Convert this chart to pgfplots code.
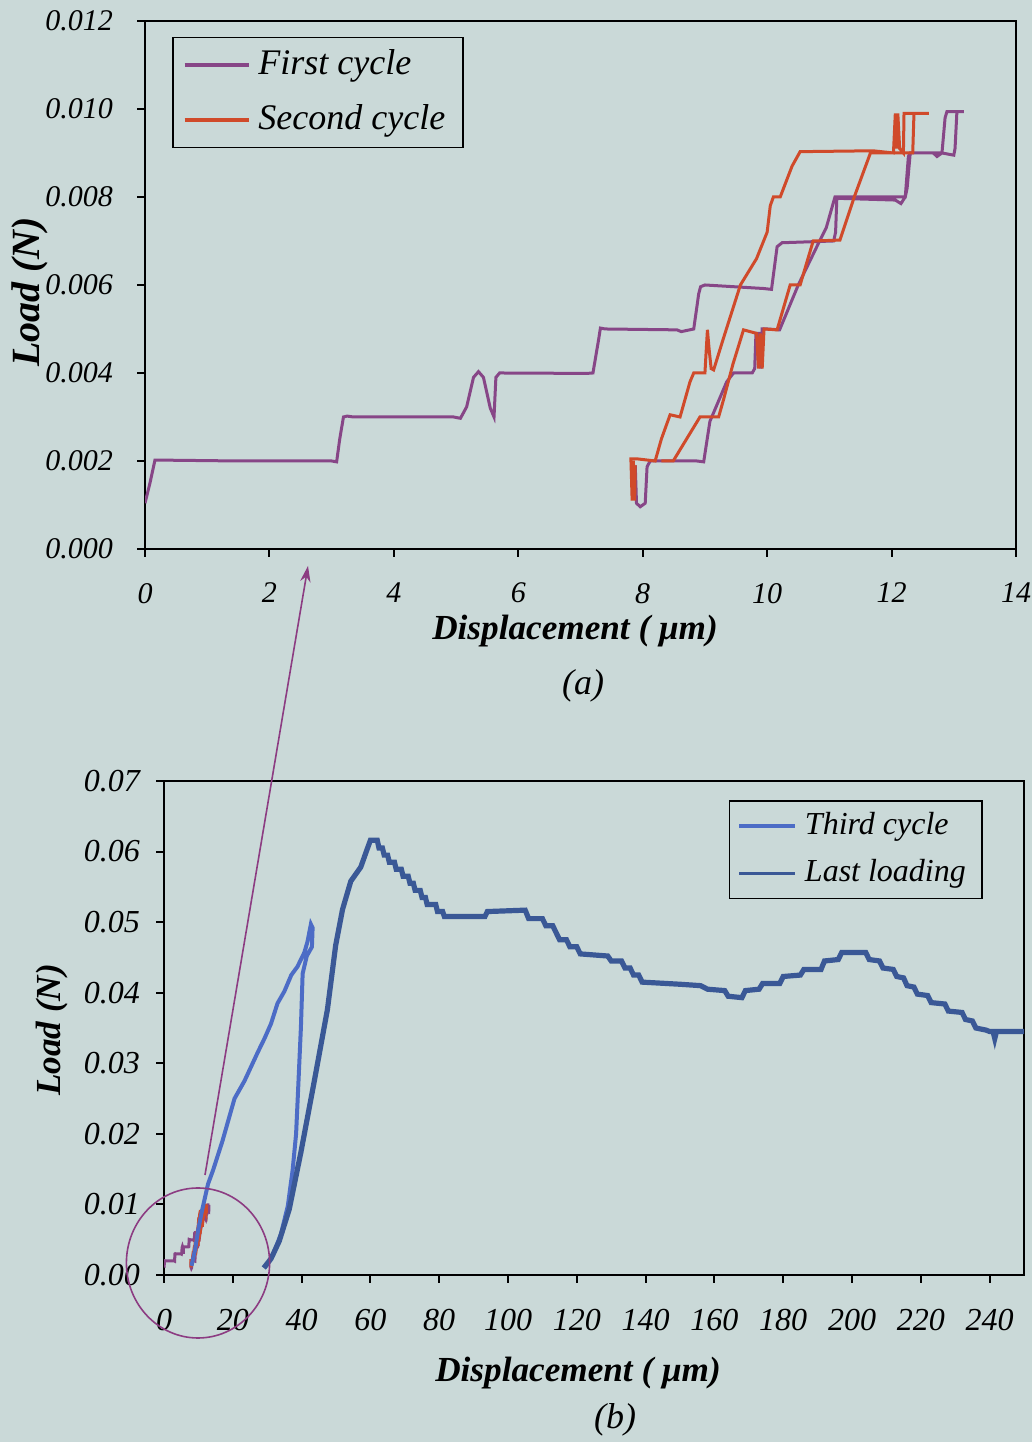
\documentclass[border=0pt]{standalone}
\usepackage{fontspec}
\setmainfont{Liberation Serif}
\usepackage{pgfplots}
\usepackage{pgfplotstable}
\pgfplotsset{compat=1.18}
\usetikzlibrary{arrows.meta}
\definecolor{bgc}{RGB}{202,217,216}
\definecolor{cPur}{RGB}{135,70,135}
\definecolor{cRed}{RGB}{208,74,42}
\definecolor{cThird}{RGB}{76,108,198}
\definecolor{cLast}{RGB}{58,88,150}
\definecolor{cAnn}{RGB}{140,60,130}

\pgfplotstableread{
x y
0 0.00104
0.08 0.0015
0.16 0.00202
0.24 0.00202
1.5 0.002
3.0 0.002
3.08 0.00198
3.13 0.0025
3.19 0.003
3.25 0.00302
3.35 0.003
4.96 0.003
5.07 0.00297
5.17 0.00323
5.28 0.0039
5.36 0.00403
5.44 0.0039
5.55 0.0032
5.61 0.003
5.64 0.0039
5.7 0.004
7.1 0.00399
7.2 0.004
7.29 0.00475
7.32 0.00502
7.4 0.005
8.55 0.00498
8.62 0.00494
8.82 0.005
8.9 0.0058
8.93 0.00596
9.0 0.006
9.94 0.00592
10.07 0.0059
10.16 0.00687
10.24 0.00696
11.07 0.007
11.1 0.0072
11.12 0.00797
12.06 0.00793
12.15 0.00785
12.22 0.008
12.27 0.00892
12.3 0.009
12.67 0.009
12.73 0.00892
12.81 0.009
12.86 0.0098
12.89 0.00994
13.16 0.00994
13.05 0.00994
13.02 0.0091
13.0 0.00895
12.81 0.009
12.3 0.009
12.25 0.0082
12.22 0.008
11.09 0.008
10.95 0.0073
10.85 0.00702
10.5 0.006
10.2 0.00498
10.0 0.005
9.92 0.005
9.9 0.0041
9.87 0.0049
9.82 0.0049
9.8 0.0041
9.76 0.004
9.46 0.004
9.35 0.0038
9.08 0.0029
8.98 0.00198
8.87 0.002
8.12 0.002
8.07 0.00187
8.04 0.00104
7.96 0.00096
7.9 0.00104
7.88 0.0019
}\firstcycle

\pgfplotstableread{
x y
7.88 0.0019
7.87 0.0011
7.85 0.002
7.83 0.0011
7.81 0.00205
7.9 0.00205
8.2 0.002
8.3 0.0025
8.44 0.00305
8.6 0.003
8.76 0.0038
8.82 0.004
9.0 0.004
9.02 0.0045
9.04 0.00498
9.07 0.0045
9.1 0.0041
9.14 0.00407
9.3 0.0048
9.57 0.006
9.83 0.0066
10.0 0.0072
10.05 0.0078
10.1 0.008
10.21 0.008
10.4 0.0087
10.53 0.00903
11.7 0.00905
12.03 0.009
12.06 0.0099
12.08 0.0091
12.1 0.0099
12.13 0.0091
12.19 0.009
12.2 0.0099
12.6 0.0099
12.36 0.0099
12.34 0.009
11.66 0.009
11.4 0.008
11.17 0.00702
10.74 0.007
10.53 0.006
10.37 0.006
10.16 0.00498
9.95 0.005
9.92 0.0041
9.89 0.0049
9.86 0.0041
9.83 0.0049
9.62 0.00498
9.45 0.0042
9.3 0.0034
9.22 0.003
8.92 0.003
8.49 0.002
8.3 0.002
}\secondcycle

\pgfplotstableread{
x y
8 0.0013
9 0.0035
9.9 0.0063
11 0.009
12.8 0.0129
14.3 0.0149
17 0.019
20.5 0.025
23.4 0.0275
25.3 0.0295
27.3 0.0316
29.2 0.0335
31.1 0.0356
33 0.0385
35 0.0402
37 0.0425
38.8 0.0437
40.8 0.0457
41.7 0.0472
42.7 0.0497
43.2 0.0492
43 0.0465
41.5 0.0452
40.3 0.0427
39.8 0.0351
39.1 0.0275
38.4 0.02
37.4 0.0149
36 0.0098
34 0.0058
31.6 0.0028
29.7 0.0013
29.2 0.001
}\thirdcycle

\pgfplotstableread{
x y
29 0.001
31.1 0.0023
33.5 0.0048
36.4 0.0093
39.8 0.0174
43.7 0.0275
47.5 0.0376
49.9 0.0467
51.9 0.0518
54.3 0.0558
57.2 0.0578
59.1 0.0604
60 0.0616
62 0.0616
62.5 0.0605
63.5 0.0605
64 0.0595
65 0.0595
65.5 0.0585
67 0.0585
67.5 0.0575
69 0.0575
69.5 0.0565
71 0.0565
71.5 0.0555
72.5 0.0555
73 0.0545
74.5 0.0545
75 0.0535
76 0.0535
76.5 0.0525
79 0.0525
79.5 0.0515
81 0.0515
81.5 0.0508
93.3 0.0508
94 0.0515
105 0.0517
106 0.0505
110 0.0505
111 0.0495
113 0.0495
114 0.0485
115 0.0475
117 0.0475
118 0.0465
120 0.0465
121 0.0455
129 0.0452
130 0.0445
133 0.0445
134 0.0435
135.5 0.0435
136.5 0.0425
138 0.0425
139 0.0415
150 0.0412
156 0.041
158 0.0405
163 0.0403
164 0.0395
168 0.0393
169 0.0403
173 0.0405
174 0.0413
179 0.0413
180 0.0423
185 0.0425
186 0.0433
191 0.0433
192 0.0445
196 0.0447
197 0.0457
204 0.0457
205 0.0447
208 0.0445
209 0.0435
212 0.0433
213 0.0423
215 0.0421
216 0.041
218 0.0408
219 0.0398
222 0.0396
223 0.0386
227 0.0384
228 0.0374
232 0.0372
233 0.0362
235 0.036
236 0.035
239 0.0347
240 0.0345
241 0.0345
241.5 0.0335
242 0.0345
250 0.0345
}\lastloading

\pgfplotsset{
  myax/.style={
    scale only axis,
    anchor=south west,
    tick align=outside,
    xtick pos=bottom,
    ytick pos=left,
    major tick length=2pt,
    every tick/.style={black, line width=0.5pt},
    axis line style={line width=0.5pt, black},
    scaled ticks=false,
    /pgf/number format/assume math mode=true,
    legend cell align=left,
  },
}

\begin{document}
\begin{tikzpicture}
\fill[bgc] (0,0) rectangle (258pt,360.5pt);
\path[use as bounding box] (0,0) rectangle (258pt,360.5pt);

% ---------------- (a)
\begin{axis}[myax,
  at={(36.25pt,223.25pt)},
  width=217.75pt, height=132pt,
  xmin=0, xmax=14, ymin=0, ymax=0.012,
  xtick={0,2,4,6,8,10,12,14},
  ytick={0,0.002,0.004,0.006,0.008,0.010,0.012},
  tick label style={font=\itshape\fontsize{7.5}{9}\selectfont},
  x tick label style={yshift=-3pt},
  y tick label style={xshift=-2.5pt, /pgf/number format/.cd, fixed, fixed zerofill, precision=3},
  legend style={at={(0.031,0.97)}, anchor=north west, draw=black, line width=0.4pt,
    fill=none, font=\itshape\fontsize{9}{10.5}\selectfont, inner xsep=2.5pt, inner ysep=1pt,
    row sep=2pt},
  legend image code/.code={\draw[#1, line width=0.9pt] (0pt,0pt) -- (16pt,0pt);},
]
\addplot[cPur, line width=0.75pt] table {\firstcycle};
\addlegendentry{First cycle}
\addplot[cRed, line width=0.75pt] table {\secondcycle};
\addlegendentry{Second cycle}
\end{axis}

% ---------------- (b)
\begin{axis}[myax,
  at={(41pt,41.75pt)},
  width=215pt, height=123.5pt,
  xmin=0, xmax=250, ymin=0, ymax=0.07,
  xtick={0,20,...,240},
  ytick={0,0.01,0.02,0.03,0.04,0.05,0.06,0.07},
  tick label style={font=\itshape\fontsize{8}{9.5}\selectfont},
  x tick label style={yshift=-3pt},
  y tick label style={xshift=-0.5pt, /pgf/number format/.cd, fixed, fixed zerofill, precision=2},
  legend style={at={(0.952,0.9615)}, anchor=north east, draw=black, line width=0.4pt,
    fill=none, font=\itshape\fontsize{8}{9.5}\selectfont, inner xsep=2pt, inner ysep=0.8pt,
    row sep=0.75pt},
  legend image code/.code={\draw[#1, line width=0.9pt] (0pt,0pt) -- (14pt,0pt);},
]
\addplot[cPur, line width=0.75pt, forget plot] table {\firstcycle};
\addplot[cRed, line width=0.75pt, forget plot] table {\secondcycle};
\addplot[cThird, line width=1pt] table {\thirdcycle};
\addlegendentry{Third cycle}
\addplot[cLast, line width=1.3pt] table {\lastloading};
\addlegendentry{Last loading}
\end{axis}

% labels
\node[rotate=90, font=\bfseries\itshape\fontsize{10}{12}\selectfont] at (7.5pt,287.5pt) {Load (N)};
\node[font=\bfseries\itshape\fontsize{8.8}{10.5}\selectfont] at (143.75pt,202.75pt) {Displacement ( μm)};
\node[font=\itshape\fontsize{9}{10.5}\selectfont] at (145.75pt,189pt) {(a)};
\node[rotate=90, font=\bfseries\itshape\fontsize{8.8}{10.5}\selectfont] at (13pt,103pt) {Load (N)};
\node[font=\bfseries\itshape\fontsize{8.8}{10.5}\selectfont] at (144.5pt,17.25pt) {Displacement ( μm)};
\node[font=\itshape\fontsize{9}{10.5}\selectfont] at (153.75pt,5.5pt) {(b)};

% annotations
\draw[cAnn, line width=0.4pt] (49.5pt,44.75pt) ellipse [x radius=17.9pt, y radius=18.75pt];
\draw[cAnn, line width=0.4pt, -{Stealth[length=4pt,width=2.6pt]}] (51.25pt,66.75pt) -- (77pt,219pt);
\end{tikzpicture}
\end{document}
